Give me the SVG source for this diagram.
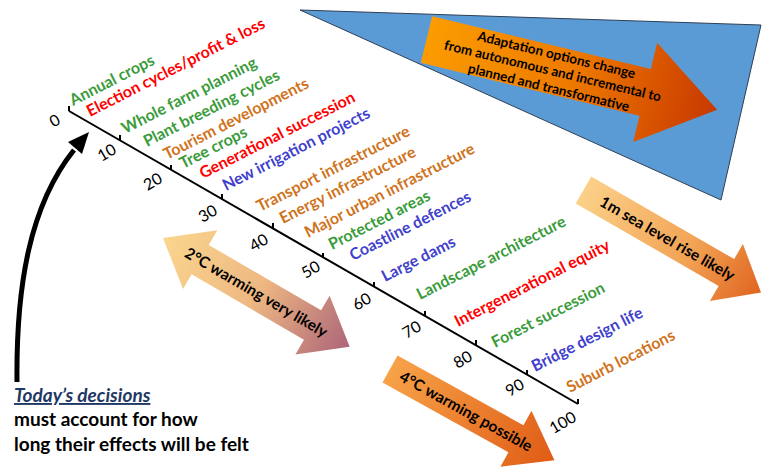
<svg xmlns="http://www.w3.org/2000/svg" width="766" height="468" viewBox="0 0 766 468">
<style>
.lbl{font-family:Lato,"Open Sans","Liberation Sans",sans-serif;font-weight:700;font-size:16px}
.g{fill:#3a9b3a}.r{fill:#ff0000}.o{fill:#cf7320}.b{fill:#4040cc}
.num{font-family:Lato,"Open Sans","Liberation Sans",sans-serif;font-size:16px;fill:#000;text-anchor:middle}
.at{font-family:Lato,"Open Sans","Liberation Sans",sans-serif;font-weight:700;fill:#000;text-anchor:middle}
.bt{font-family:Lato,"Open Sans","Liberation Sans",sans-serif;font-weight:700;font-size:19px;fill:#000}
</style>
<defs>
<linearGradient id="gAd" x1="0" y1="0" x2="1" y2="0"><stop offset="0" stop-color="#fb9c00"/><stop offset="0.5" stop-color="#ee7a00"/><stop offset="1" stop-color="#c83800"/></linearGradient>
<linearGradient id="g2" x1="0" y1="0" x2="1" y2="0"><stop offset="0" stop-color="#fad68e"/><stop offset="0.5" stop-color="#eeb882"/><stop offset="1" stop-color="#ad6679"/></linearGradient>
<linearGradient id="g1m" x1="0" y1="0" x2="1" y2="0"><stop offset="0" stop-color="#fbd088"/><stop offset="0.6" stop-color="#f2a355"/><stop offset="1" stop-color="#e06520"/></linearGradient>
<linearGradient id="g4" x1="0" y1="0" x2="1" y2="0"><stop offset="0" stop-color="#f7a248"/><stop offset="1" stop-color="#e05c16"/></linearGradient>
</defs>

<g id="adaptation">
<polygon points="300,10 761,25 721,200" fill="#5b9bd5" stroke="#2f3f55" stroke-width="1"/>
<g transform="translate(426.5,39.5) rotate(13.6)">
<polygon points="0,-24 225,-24 225,-51 299,0 225,51 225,24 0,24" fill="url(#gAd)"/>
<text class="at" font-size="13.5"><tspan x="130" y="-11">Adaptation options change</tspan><tspan x="130" y="5.5">from autonomous and incremental to</tspan><tspan x="130" y="22.5">planned and transformative</tspan></text>
</g>
</g>

<g id="axis" stroke="#000" stroke-width="2" fill="none">
<line x1="69" y1="111" x2="578" y2="404"/>
<path d="M69,111 v-5 M120,140 v-5 M171,170 v-5 M222,199 v-5 M273,228 v-5 M323,258 v-5 M374,287 v-5 M425,316 v-5 M476,345 v-5 M527,375 v-5 M578,404 v-5"/>
</g>
<g id="numbers">
<text class="num" transform="translate(55,121) rotate(-30)" dy="5">0</text>
<text class="num" transform="translate(107,153) rotate(-30)" dy="5">10</text>
<text class="num" transform="translate(153,182) rotate(-30)" dy="5">20</text>
<text class="num" transform="translate(208,214) rotate(-30)" dy="5">30</text>
<text class="num" transform="translate(259,243) rotate(-30)" dy="5">40</text>
<text class="num" transform="translate(311,270) rotate(-30)" dy="5">50</text>
<text class="num" transform="translate(362,302) rotate(-30)" dy="5">60</text>
<text class="num" transform="translate(412,330) rotate(-30)" dy="5">70</text>
<text class="num" transform="translate(463,360) rotate(-30)" dy="5">80</text>
<text class="num" transform="translate(515,388) rotate(-30)" dy="5">90</text>
<text class="num" transform="translate(563,423) rotate(-30)" dy="5">100</text>
</g>

<g id="labels" class="lbl">
<text class="g" transform="translate(73,106) rotate(-27)">Annual crops</text>
<text class="r" transform="translate(90,117) rotate(-27)">Election cycles/profit &amp; loss</text>
<text class="g" transform="translate(125,134) rotate(-27)">Whole farm planning</text>
<text class="g" transform="translate(147,147) rotate(-27)">Plant breeding cycles</text>
<text class="o" transform="translate(167,160) rotate(-27)">Tourism developments</text>
<text class="g" transform="translate(183,169) rotate(-27)">Tree crops</text>
<text class="r" transform="translate(203,179) rotate(-27)">Generational succession</text>
<text class="b" transform="translate(226,191) rotate(-27)">New irrigation projects</text>
<text class="o" transform="translate(260,212) rotate(-27)">Transport infrastructure</text>
<text class="o" transform="translate(283,224) rotate(-27)">Energy infrastructure</text>
<text class="o" transform="translate(308,238) rotate(-27)">Major urban infrastructure</text>
<text class="g" transform="translate(332,250) rotate(-27)">Protected areas</text>
<text class="b" transform="translate(353,261) rotate(-27)">Coastline defences</text>
<text class="b" transform="translate(385,282) rotate(-27)">Large dams</text>
<text class="g" transform="translate(420,300) rotate(-27)">Landscape architecture</text>
<text class="r" transform="translate(458,327) rotate(-27)">Intergenerational equity</text>
<text class="g" transform="translate(495,348) rotate(-27)">Forest succession</text>
<text class="b" transform="translate(535,372) rotate(-27)">Bridge design life</text>
<text class="o" transform="translate(570,393) rotate(-27)">Suburb locations</text>
</g>

<g id="arrow-2c" transform="translate(163,238) rotate(30.2)">
<polygon points="0,0 43,-34 43,-17 173,-17 173,-34 216,0 173,34 173,17 43,17 43,34" fill="url(#g2)"/>
<text class="at" font-size="15.5" x="108" y="5.5">2°C warming very likely</text>
</g>
<g id="arrow-1m" transform="translate(583.5,190) rotate(30)">
<polygon points="0,-15.5 165,-15.5 165,-33 205,0 165,33 165,15.5 0,15.5" fill="url(#g1m)"/>
<text class="at" font-size="15.5" x="97" y="5.5">1m sea level rise likely</text>
</g>
<g id="arrow-4c" transform="translate(390,369) rotate(29)">
<polygon points="0,-15.5 144,-15.5 144,-32 188,0 144,32 144,15.5 0,15.5" fill="url(#g4)"/>
<text class="at" font-size="15.5" x="87" y="5.5">4°C warming possible</text>
</g>

<g id="today">
<path d="M17,382 C16,285 30,205 74,150" fill="none" stroke="#000" stroke-width="5"/>
<polygon points="89,132 68,142 82,154" fill="#000"/>
<text class="bt" x="14" y="402" font-style="italic" style="fill:#1f3864" text-decoration="underline">Today’s decisions</text>
<text class="bt" x="14" y="426">must account for how</text>
<text class="bt" x="14" y="451">long their effects will be felt</text>
</g>
</svg>
